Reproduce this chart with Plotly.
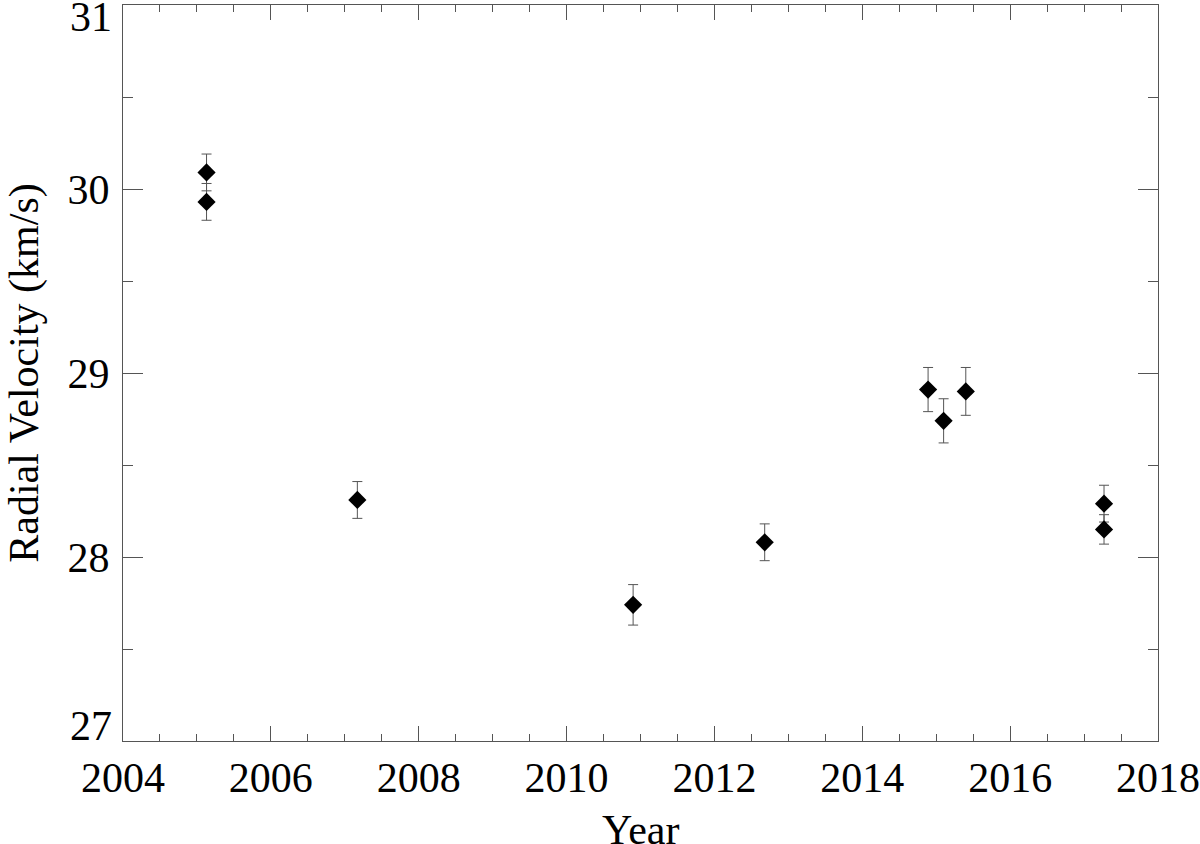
import plotly.graph_objects as go

year = [2005.13, 2005.13, 2007.17, 2010.90, 2012.68, 2014.89, 2015.10, 2015.40, 2017.27, 2017.27]
rv = [30.09, 29.93, 28.31, 27.74, 28.08, 28.91, 28.74, 28.90, 28.29, 28.15]
rv_err = [0.10, 0.10, 0.10, 0.11, 0.10, 0.12, 0.12, 0.13, 0.10, 0.08]

x_ticks = [2004, 2006, 2008, 2010, 2012, 2014, 2016, 2018]
y_ticks = [27, 28, 29, 30, 31]

axis_col = '#555555'
font_family = 'Liberation Serif'
big_font = dict(family=font_family, size=42, color='black')

fig = go.Figure()
fig.add_trace(go.Scatter(
    x=year, y=rv, mode='markers',
    marker=dict(symbol='diamond', size=14, color='black', line=dict(width=0)),
    error_y=dict(type='data', array=rv_err, visible=True, color=axis_col, thickness=1, width=5),
    showlegend=False,
))

axis_common = dict(
    showline=True, linecolor=axis_col, linewidth=1, mirror='allticks',
    ticks='inside', tickcolor=axis_col, tickwidth=1,
    showgrid=False, zeroline=False, automargin=False,
    ticklabeloverflow='allow', tickfont=big_font,
)

fig.update_xaxes(
    range=[2004, 2018], tickvals=x_ticks, ticklen=15,
    minor=dict(dtick=0.5, tick0=2004, ticks='inside', ticklen=7, tickcolor=axis_col, tickwidth=1, showgrid=False),
    **axis_common,
)
# end labels (27, 31) are pulled inside the axis span like the original, so they are annotations
fig.update_yaxes(
    range=[27, 31], tickvals=y_ticks,
    ticktext=[''] + [str(v) for v in y_ticks[1:-1]] + [''],
    ticklen=20, ticklabelstandoff=4,
    minor=dict(dtick=0.5, tick0=27, ticks='inside', ticklen=10, tickcolor=axis_col, tickwidth=1, showgrid=False),
    title=dict(text='Radial Velocity (km/s)', font=big_font),
    **axis_common,
)
fig.add_annotation(text=str(y_ticks[0]), xref='paper', x=0, xanchor='right', xshift=-9,
                   yref='y', y=y_ticks[0], yanchor='bottom', yshift=-10, showarrow=False, font=big_font)
fig.add_annotation(text=str(y_ticks[-1]), xref='paper', x=0, xanchor='right', xshift=-9,
                   yref='y', y=y_ticks[-1], yanchor='top', yshift=13, showarrow=False, font=big_font)
# x title sits lower than plotly's default spot, partly off the bottom edge
fig.add_annotation(text='Year', xref='paper', x=0.5, xanchor='center',
                   yref='paper', y=0, yanchor='top', yshift=-64, showarrow=False, font=big_font)

fig.update_layout(
    width=1200, height=844,
    margin=dict(l=123, r=42, t=5, b=103),
    plot_bgcolor='white', paper_bgcolor='white',
    font=dict(family=font_family, color='black'),
)

# drop the browser's default body margin so the figure sits at the page corner
fig.write_html("out.html", config={'displayModeBar': False},
               post_script="document.body.style.margin='0px';")
